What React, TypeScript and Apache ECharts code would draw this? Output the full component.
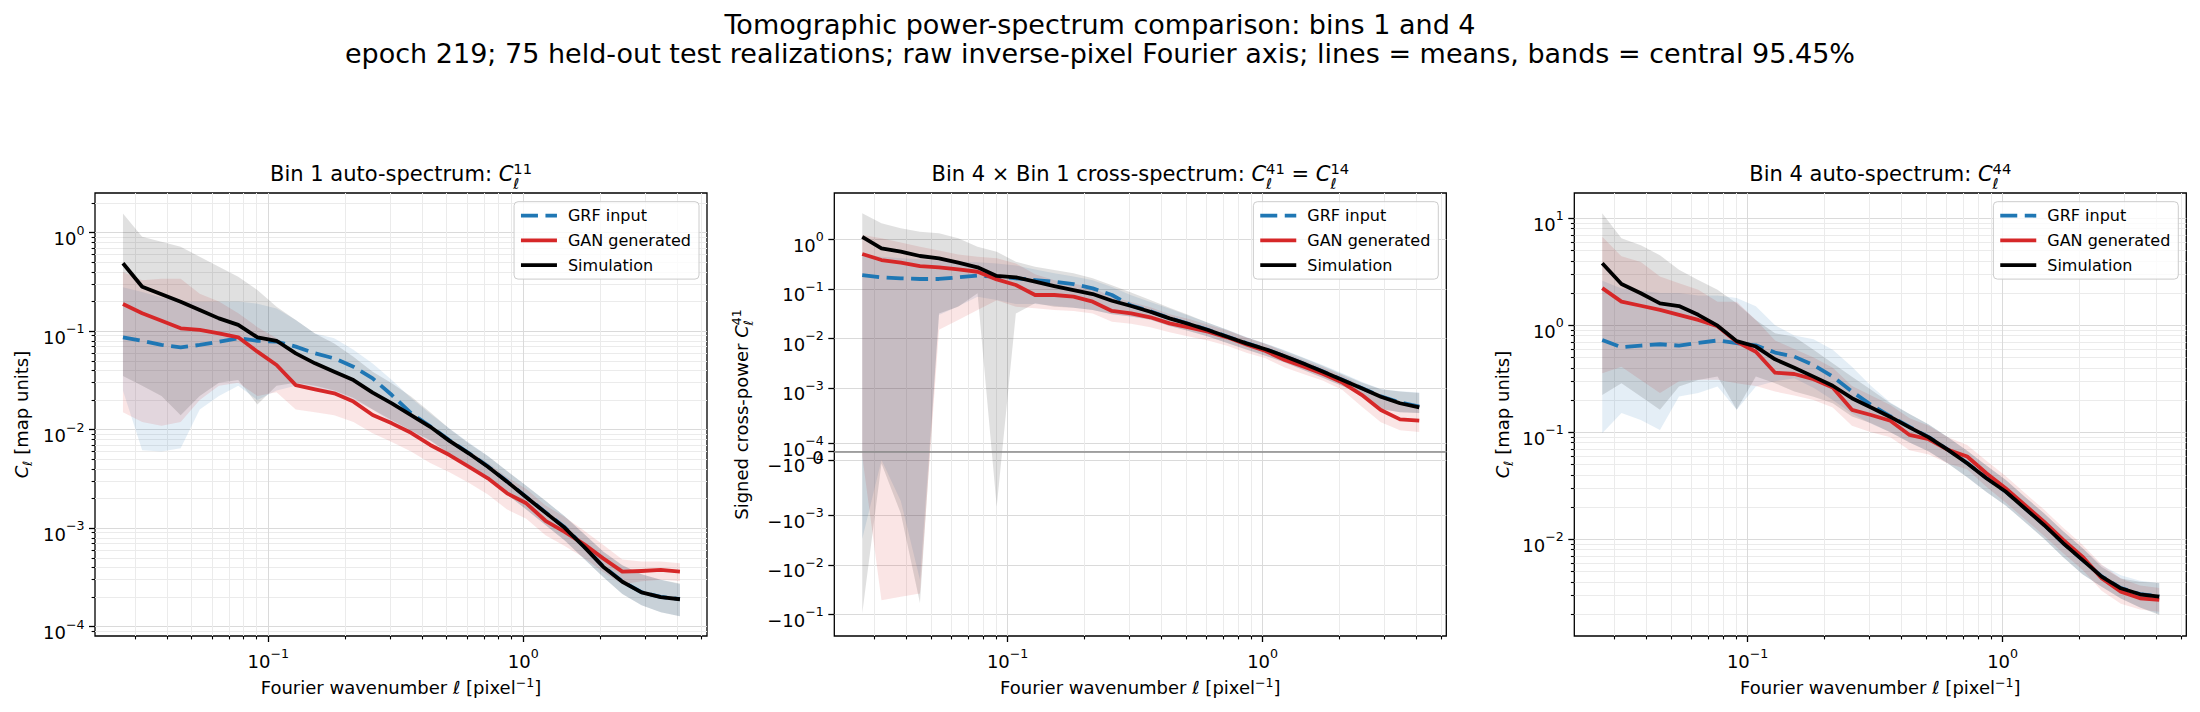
import React, { useEffect, useRef } from "react";
import * as echarts from "echarts";

// ---------------- data ----------------
const ELL = [0.0269, 0.032, 0.0381, 0.0453, 0.0538, 0.064, 0.0762, 0.0906, 0.1077, 0.1281, 0.1524, 0.1813, 0.2156, 0.2565, 0.305, 0.3628, 0.4315, 0.5133, 0.6105, 0.7261, 0.8636, 1.0272, 1.2218, 1.4532, 1.7284, 2.0558, 2.4452, 2.9083, 3.4592, 4.1143];

// Bin 1 auto-spectrum C^11
const GRF_11 = [0.0867, 0.08, 0.0725, 0.0686, 0.0725, 0.0783, 0.0848, 0.08, 0.0783, 0.0697, 0.0596, 0.053, 0.0436, 0.0332, 0.0225, 0.0147, 0.0108, 0.0078, 0.0058, 0.00424, 0.00299, 0.00207, 0.00145, 0.00102, 0.000655, 0.00041, 0.000288, 0.000224, 0.000201, 0.000191];
const GRF_11_LO = [0.025, 0.0062, 0.006, 0.0065, 0.016, 0.022, 0.028, 0.02, 0.025, 0.028, 0.026, 0.024, 0.02, 0.016, 0.012, 0.0095, 0.0077, 0.0057, 0.0044, 0.0032, 0.0022, 0.00155, 0.00108, 0.00075, 0.00049, 0.00032, 0.000215, 0.000165, 0.00014, 0.000128];
const GRF_11_HI = [0.28, 0.25, 0.22, 0.2, 0.2, 0.2, 0.2, 0.19, 0.17, 0.13, 0.095, 0.085, 0.065, 0.047, 0.032, 0.021, 0.0145, 0.0103, 0.0074, 0.0054, 0.0038, 0.0027, 0.0019, 0.00132, 0.00088, 0.00058, 0.00042, 0.00034, 0.0003, 0.00027];
const GAN_11 = [0.189, 0.152, 0.128, 0.107, 0.103, 0.0952, 0.0867, 0.062, 0.0454, 0.0284, 0.0257, 0.0234, 0.0193, 0.0141, 0.0116, 0.0093, 0.007, 0.00553, 0.00421, 0.00321, 0.00226, 0.00179, 0.00119, 0.00092, 0.00069, 0.000494, 0.000362, 0.000368, 0.000377, 0.000362];
const GAN_11_LO = [0.015, 0.012, 0.011, 0.012, 0.02, 0.028, 0.03, 0.022, 0.024, 0.016, 0.015, 0.014, 0.012, 0.0092, 0.0075, 0.006, 0.0046, 0.0037, 0.0029, 0.0022, 0.00155, 0.00125, 0.00085, 0.00066, 0.0005, 0.00036, 0.00027, 0.00029, 0.0003, 0.00029];
const GAN_11_HI = [0.4, 0.33, 0.34, 0.34, 0.24, 0.2, 0.152, 0.11, 0.085, 0.06, 0.048, 0.04, 0.032, 0.024, 0.019, 0.0145, 0.0108, 0.0082, 0.0061, 0.0046, 0.0033, 0.0025, 0.0017, 0.0013, 0.00095, 0.00068, 0.00048, 0.00046, 0.00046, 0.00044];
const SIM_11 = [0.489, 0.283, 0.237, 0.199, 0.164, 0.135, 0.116, 0.0867, 0.08, 0.0596, 0.0472, 0.0388, 0.0319, 0.0238, 0.0185, 0.0141, 0.0107, 0.0077, 0.00576, 0.00421, 0.00297, 0.00206, 0.00144, 0.00101, 0.00065, 0.000407, 0.000286, 0.000223, 0.0002, 0.00019];
const SIM_11_LO = [0.035, 0.028, 0.022, 0.014, 0.022, 0.03, 0.032, 0.018, 0.028, 0.03, 0.028, 0.025, 0.021, 0.016, 0.0125, 0.0098, 0.0078, 0.0057, 0.0044, 0.0032, 0.0022, 0.00155, 0.00108, 0.00075, 0.00049, 0.00032, 0.000215, 0.000165, 0.00014, 0.000128];
const SIM_11_HI = [1.57, 0.91, 0.81, 0.72, 0.57, 0.45, 0.357, 0.262, 0.177, 0.13, 0.095, 0.075, 0.055, 0.0388, 0.0296, 0.0217, 0.015, 0.0102, 0.0073, 0.0054, 0.0038, 0.0027, 0.0019, 0.00132, 0.00088, 0.00058, 0.00042, 0.00034, 0.0003, 0.000275];

// Bin 4 x Bin 1 cross-spectrum C^41 (signed)
const GRF_41 = [0.192, 0.173, 0.165, 0.16, 0.16, 0.173, 0.187, 0.178, 0.165, 0.152, 0.141, 0.126, 0.1035, 0.0759, 0.0465, 0.0355, 0.026, 0.0199, 0.015, 0.011, 0.0081, 0.0061, 0.0044, 0.0031, 0.00215, 0.00147, 0.001, 0.00068, 0.0006, 0.00055];
const GRF_41_LO = [-0.003, -0.0001, -0.0006, -0.02, 0.03, 0.045, 0.07, 0.06, 0.05, 0.05, 0.046, 0.042, 0.038, 0.031, 0.028, 0.024, 0.018, 0.0142, 0.011, 0.0081, 0.006, 0.0045, 0.0033, 0.0023, 0.0016, 0.0011, 0.00075, 0.00052, 0.00048, 0.00047];
const GRF_41_HI = [0.5, 0.45, 0.42, 0.4, 0.38, 0.36, 0.35, 0.33, 0.3, 0.25, 0.21, 0.18, 0.15, 0.11, 0.075, 0.055, 0.04, 0.029, 0.021, 0.015, 0.0108, 0.008, 0.0058, 0.0041, 0.0029, 0.002, 0.00135, 0.00096, 0.00086, 0.00081];
const GAN_41 = [0.511, 0.386, 0.341, 0.292, 0.275, 0.251, 0.224, 0.157, 0.121, 0.0759, 0.0759, 0.0702, 0.0556, 0.0361, 0.0324, 0.0269, 0.0203, 0.0169, 0.0138, 0.0106, 0.00764, 0.0056, 0.0037, 0.00271, 0.00193, 0.00129, 0.00073, 0.000508, 0.000394, 0.000378];
const GAN_41_LO = [-0.00005, -0.0519, -0.0443, -0.0378, 0.015, 0.0237, 0.0376, 0.0596, 0.0441, 0.041, 0.038, 0.036, 0.032, 0.022, 0.02, 0.017, 0.0135, 0.011, 0.0092, 0.0072, 0.0052, 0.004, 0.0026, 0.0019, 0.0014, 0.00092, 0.00055, 0.00036, 0.00026, 0.00024];
const GAN_41_HI = [1.24, 1.06, 0.87, 0.72, 0.6, 0.5, 0.45, 0.42, 0.33, 0.2, 0.15, 0.13, 0.105, 0.07, 0.055, 0.043, 0.031, 0.025, 0.019, 0.0145, 0.0105, 0.0078, 0.0053, 0.0036, 0.0026, 0.0018, 0.0011, 0.00075, 0.0006, 0.00058];
const SIM_41 = [1.14, 0.665, 0.569, 0.466, 0.418, 0.341, 0.275, 0.184, 0.173, 0.141, 0.115, 0.0957, 0.0794, 0.0582, 0.0455, 0.0349, 0.0256, 0.0197, 0.0149, 0.0109, 0.008, 0.0061, 0.0044, 0.0031, 0.00214, 0.00146, 0.00099, 0.00067, 0.00059, 0.00054];
const SIM_41_LO = [-0.0958, -0.000145, -0.00092, -0.0594, 0.032, 0.0441, 0.0822, -0.00067, 0.032, 0.052, 0.044, 0.042, 0.038, 0.031, 0.028, 0.024, 0.018, 0.0142, 0.011, 0.0081, 0.006, 0.0045, 0.0033, 0.0023, 0.0016, 0.0011, 0.00075, 0.00052, 0.00048, 0.00047];
const SIM_41_HI = [3.39, 2.13, 1.69, 1.44, 1.34, 1.06, 0.718, 0.569, 0.357, 0.283, 0.243, 0.208, 0.165, 0.12, 0.085, 0.06, 0.042, 0.03, 0.021, 0.015, 0.0105, 0.0079, 0.0057, 0.004, 0.0028, 0.0019, 0.0013, 0.00095, 0.00085, 0.0008];

// Bin 4 auto-spectrum C^44
const GRF_44 = [0.729, 0.623, 0.645, 0.664, 0.645, 0.685, 0.72, 0.68, 0.648, 0.555, 0.509, 0.425, 0.331, 0.24, 0.18, 0.141, 0.112, 0.09, 0.0688, 0.0515, 0.0374, 0.028, 0.0196, 0.0137, 0.0092, 0.00643, 0.0045, 0.0035, 0.00307, 0.00292];
const GRF_44_LO = [0.098, 0.151, 0.13, 0.105, 0.216, 0.232, 0.267, 0.162, 0.267, 0.3, 0.32, 0.26, 0.2, 0.15, 0.12, 0.1, 0.08, 0.066, 0.051, 0.038, 0.0277, 0.0207, 0.0145, 0.0101, 0.0068, 0.0047, 0.0036, 0.0028, 0.0023, 0.002];
const GRF_44_HI = [2.6, 2.2, 2.1, 2.0, 2.0, 1.9, 1.9, 1.8, 1.5, 1.0, 0.8, 0.74, 0.59, 0.41, 0.27, 0.19, 0.148, 0.118, 0.09, 0.067, 0.049, 0.036, 0.025, 0.0175, 0.0119, 0.0083, 0.0057, 0.0046, 0.0041, 0.0039];
const GAN_44 = [2.22, 1.66, 1.52, 1.39, 1.25, 1.12, 0.98, 0.7, 0.565, 0.36, 0.35, 0.313, 0.262, 0.162, 0.145, 0.128, 0.0944, 0.086, 0.0684, 0.0593, 0.0414, 0.03, 0.0209, 0.0146, 0.00984, 0.00688, 0.00433, 0.00324, 0.00281, 0.00271];
const GAN_44_LO = [0.356, 0.41, 0.308, 0.232, 0.3, 0.31, 0.31, 0.287, 0.27, 0.24, 0.22, 0.2, 0.17, 0.115, 0.1, 0.09, 0.068, 0.062, 0.051, 0.045, 0.031, 0.022, 0.0155, 0.0108, 0.0074, 0.0052, 0.0033, 0.0025, 0.0022, 0.0021];
const GAN_44_HI = [6.7, 4.4, 3.9, 2.85, 2.47, 2.14, 1.66, 1.66, 1.12, 0.72, 0.6, 0.5, 0.4, 0.27, 0.22, 0.18, 0.135, 0.115, 0.09, 0.076, 0.054, 0.039, 0.027, 0.019, 0.0128, 0.0089, 0.0058, 0.0043, 0.0037, 0.0035];
const SIM_44 = [3.8, 2.43, 1.99, 1.6, 1.51, 1.25, 0.99, 0.71, 0.632, 0.48, 0.4, 0.331, 0.272, 0.208, 0.17, 0.139, 0.111, 0.0895, 0.0684, 0.0513, 0.0372, 0.0279, 0.0195, 0.0136, 0.00918, 0.00641, 0.00448, 0.00348, 0.00306, 0.00291];
const SIM_44_LO = [0.223, 0.287, 0.216, 0.162, 0.267, 0.308, 0.331, 0.162, 0.331, 0.287, 0.24, 0.215, 0.187, 0.14, 0.121, 0.1, 0.08, 0.066, 0.051, 0.038, 0.0277, 0.0207, 0.0145, 0.0101, 0.0068, 0.0047, 0.0036, 0.0028, 0.0023, 0.00196];
const SIM_44_HI = [11.1, 6.5, 5.6, 4.5, 3.29, 2.65, 2.14, 1.6, 1.12, 0.84, 0.78, 0.59, 0.44, 0.33, 0.25, 0.187, 0.148, 0.118, 0.09, 0.067, 0.049, 0.036, 0.025, 0.0175, 0.0119, 0.0083, 0.0055, 0.0043, 0.004, 0.0039];

// ticks
const X_MAJOR = [0.1, 1];
const X_MINOR = [0.03, 0.04, 0.05, 0.06, 0.07, 0.08, 0.09, 0.2, 0.3, 0.4, 0.5, 0.6, 0.7, 0.8, 0.9, 2, 3, 4, 5];
const Y11_MAJOR = [1e-4, 1e-3, 1e-2, 1e-1, 1];
const Y44_MAJOR = [1e-2, 1e-1, 1, 10];
const Y41_MAJOR = [1, 0.1, 0.01, 1e-3, 1e-4, 0, -1e-4, -1e-3, -1e-2, -1e-1];
const MINOR_MANTISSA = [2, 3, 4, 5, 6, 7, 8, 9];

// texts
const SERIES_NAMES = ["GRF input", "GAN generated", "Simulation"];
const SUPTITLE_1 = "Tomographic power-spectrum comparison: bins 1 and 4";
const SUPTITLE_2 = "epoch 219; 75 held-out test realizations; raw inverse-pixel Fourier axis; lines = means, bands = central 95.45%";

// ---------------- layout / style ----------------
const FONT = "DejaVu Sans";
const BLUE = "#1f77b4";
const RED = "#d62728";
const BLACK = "#000000";
const BAND_BLUE = "rgba(31,119,180,0.12)";
const BAND_RED = "rgba(214,39,40,0.12)";
const BAND_GRAY = "rgba(0,0,0,0.12)";
const MAJOR_GRID = "#dadada";
const MINOR_GRID = "#ebebeb";

const GRID_LEFT = [95, 834.3, 1574.3];
const GRID_TOP = 193;
const GRID_W = 612;
const GRID_H = 443;
const X_MIN = 0.0209;
const X_MAX = 5.253;

const LINTHRESH = 6.7e-4;
const LINSCALE_ADJ = 1 / 0.9;
function symlog(v: number): number {
  const a = Math.abs(v);
  if (a <= LINTHRESH) return (v / LINTHRESH) * LINSCALE_ADJ;
  return Math.sign(v) * (LINSCALE_ADJ + Math.log10(a / LINTHRESH));
}
const ident = (v: number) => v;

function minorTicks(lo: number, hi: number): number[] {
  const out: number[] = [];
  for (let e = -6; e <= 2; e++) {
    for (const m of MINOR_MANTISSA) {
      const v = m * Math.pow(10, e);
      if (v >= lo && v <= hi) out.push(+v.toPrecision(6));
    }
  }
  return out;
}

const expStr = (e: number) => (e < 0 ? "\u2212" + -e : String(e));
const logFmt = (value: number) => `{b|10}{e|${expStr(Math.round(Math.log10(value)))}}`;
const symFmt = (value: number) => {
  let best = Y41_MAJOR[0];
  let d = Infinity;
  for (const t of Y41_MAJOR) {
    const dd = Math.abs(symlog(t) - value);
    if (dd < d) { d = dd; best = t; }
  }
  if (best === 0) return "{b|0}";
  const e = Math.round(Math.log10(Math.abs(best)));
  return `{b|${best < 0 ? "\u2212" : ""}10}{e|${expStr(e)}}`;
};

const RICH = {
  b: { fontSize: 18, fontFamily: FONT, color: "#000", lineHeight: 24, verticalAlign: "bottom" },
  e: { fontSize: 12.6, fontFamily: FONT, color: "#000", lineHeight: 11, verticalAlign: "top" },
};

type Seg = { t: string; size: number; dy?: number; italic?: boolean; stack?: boolean };

function mathText(ctx: CanvasRenderingContext2D, segs: Seg[], x: number, y: number, rotation = 0) {
  let cursor = 0;
  let prevStart = 0;
  let prevW = 0;
  const placed = segs.map((s) => {
    ctx.font = `${s.italic ? "italic " : ""}${s.size}px "${FONT}"`;
    const w = ctx.measureText(s.t).width;
    let sx: number;
    if (s.stack) {
      sx = prevStart;
      cursor = prevStart + Math.max(prevW, w);
    } else {
      sx = cursor;
      cursor += w;
    }
    prevStart = sx;
    prevW = w;
    return { s, sx };
  });
  const off = -cursor / 2;
  return {
    type: "group",
    x,
    y,
    rotation,
    silent: true,
    children: placed.map(({ s, sx }) => ({
      type: "text",
      x: off + sx,
      y: (s.dy || 0) - 0.346 * s.size,
      style: {
        text: s.t,
        fontSize: s.size,
        fontFamily: FONT,
        fontStyle: s.italic ? "italic" : "normal",
        fill: "#000",
        align: "left",
        verticalAlign: "middle",
      },
    })),
  };
}

function buildOption() {
  const ctx = document.createElement("canvas").getContext("2d") as CanvasRenderingContext2D;

  const panels = [
    { grf: [GRF_11, GRF_11_LO, GRF_11_HI], gan: [GAN_11, GAN_11_LO, GAN_11_HI], sim: [SIM_11, SIM_11_LO, SIM_11_HI], kind: "log", yMin: 8.05e-5, yMax: 2.53, major: Y11_MAJOR, tf: ident },
    { grf: [GRF_41, GRF_41_LO, GRF_41_HI], gan: [GAN_41, GAN_41_LO, GAN_41_HI], sim: [SIM_41, SIM_41_LO, SIM_41_HI], kind: "sym", yMin: -3.723, yMax: 5.226, major: Y41_MAJOR, tf: symlog },
    { grf: [GRF_44, GRF_44_LO, GRF_44_HI], gan: [GAN_44, GAN_44_LO, GAN_44_HI], sim: [SIM_44, SIM_44_LO, SIM_44_HI], kind: "log", yMin: 1.247e-3, yMax: 17.2, major: Y44_MAJOR, tf: ident },
  ];

  const grid = GRID_LEFT.map((l) => ({
    left: l, top: GRID_TOP, width: GRID_W, height: GRID_H,
    show: true, borderColor: "#000", borderWidth: 1.3, backgroundColor: "rgba(0,0,0,0)",
    containLabel: false, outerBoundsMode: "none",
  }));

  const xAxis: any[] = [];
  const yAxis: any[] = [];
  panels.forEach((p, g) => {
    xAxis.push({
      type: "log", logBase: 10, gridIndex: g, position: "bottom", min: X_MIN, max: X_MAX,
      axisLine: { show: false, onZero: false },
      axisTick: { show: true, customValues: X_MAJOR, length: 6, lineStyle: { color: "#000", width: 1.3 } },
      axisLabel: { show: true, customValues: X_MAJOR, formatter: logFmt, margin: 10.8, rich: RICH, color: "#000" },
      splitLine: { show: true, lineStyle: { color: MAJOR_GRID, width: 1 } },
    });
    xAxis.push({
      type: "log", logBase: 10, gridIndex: g, position: "bottom", min: X_MIN, max: X_MAX,
      axisLine: { show: false, onZero: false },
      axisTick: { show: true, customValues: X_MINOR, length: 3.4, lineStyle: { color: "#000", width: 1.1 } },
      axisLabel: { show: false },
      splitLine: { show: true, lineStyle: { color: MINOR_GRID, width: 1 } },
    });
    if (p.kind === "log") {
      yAxis.push({
        type: "log", logBase: 10, gridIndex: g, position: "left", min: p.yMin, max: p.yMax,
        axisLine: { show: false, onZero: false },
        axisTick: { show: true, customValues: p.major, length: 6, lineStyle: { color: "#000", width: 1.3 } },
        axisLabel: { show: true, customValues: p.major, formatter: logFmt, margin: 10.5, rich: RICH, color: "#000", padding: [5.6, 0, 0, 0] },
        splitLine: { show: true, lineStyle: { color: MAJOR_GRID, width: 1 } },
      });
      yAxis.push({
        type: "log", logBase: 10, gridIndex: g, position: "left", min: p.yMin, max: p.yMax,
        axisLine: { show: false, onZero: false },
        axisTick: { show: true, customValues: minorTicks(p.yMin, p.yMax), length: 3.4, lineStyle: { color: "#000", width: 1.1 } },
        axisLabel: { show: false },
        splitLine: { show: true, lineStyle: { color: MINOR_GRID, width: 1 } },
      });
    } else {
      const tv = p.major.map(symlog);
      yAxis.push({
        type: "value", gridIndex: g, position: "left", min: p.yMin, max: p.yMax,
        axisLine: { show: false, onZero: false },
        axisTick: { show: true, customValues: tv, length: 6, lineStyle: { color: "#000", width: 1.3 } },
        axisLabel: { show: true, customValues: tv, formatter: symFmt, margin: 10.5, rich: RICH, color: "#000", padding: [5.6, 0, 0, 0] },
        splitLine: { show: true, lineStyle: { color: MAJOR_GRID, width: 1 } },
      });
      yAxis.push({ type: "value", gridIndex: g, position: "left", min: p.yMin, max: p.yMax, show: false });
    }
  });

  const series: any[] = [];
  panels.forEach((p, g) => {
    const tf = p.tf;
    const band = (name: string, lo: number[], hi: number[], fill: string) => ({
      type: "custom",
      name,
      xAxisIndex: 2 * g,
      yAxisIndex: 2 * g,
      clip: true,
      silent: true,
      z: 1,
      data: [[ELL[0], tf(hi[0])]],
      renderItem: (params: any, api: any) => {
        if (params.dataIndex !== 0) return null;
        const pts: number[][] = [];
        for (let i = 0; i < ELL.length; i++) pts.push(api.coord([ELL[i], tf(hi[i])]));
        for (let i = ELL.length - 1; i >= 0; i--) pts.push(api.coord([ELL[i], tf(lo[i])]));
        return { type: "polygon", shape: { points: pts }, style: { fill, stroke: "none" } };
      },
    });
    series.push(band("GRF band", p.grf[1], p.grf[2], BAND_BLUE));
    series.push(band("GAN band", p.gan[1], p.gan[2], BAND_RED));
    series.push(band("Simulation band", p.sim[1], p.sim[2], BAND_GRAY));
    const line = (name: string, vals: number[], color: string, dashed: boolean, z: number, extra: any = {}) => ({
      type: "line",
      name,
      xAxisIndex: 2 * g,
      yAxisIndex: 2 * g,
      data: ELL.map((x, i) => [x, tf(vals[i])]),
      symbol: "none",
      showSymbol: false,
      silent: true,
      z,
      lineStyle: { color, width: 3.8, type: dashed ? [17, 7.5] : "solid", join: "round", cap: "butt" },
      itemStyle: { color },
      ...extra,
    });
    const zeroLine =
      p.kind === "sym"
        ? {
            markLine: {
              silent: true,
              symbol: "none",
              label: { show: false },
              lineStyle: { color: "#8a8a8a", width: 1.6, type: "solid" },
              data: [{ yAxis: 0 }],
            },
          }
        : {};
    series.push(line(SERIES_NAMES[0], p.grf[0], BLUE, true, 3, zeroLine));
    series.push(line(SERIES_NAMES[1], p.gan[0], RED, false, 4));
    series.push(line(SERIES_NAMES[2], p.sim[0], BLACK, false, 5));
  });

  const legend = GRID_LEFT.map((l) => ({
    orient: "vertical",
    right: 2200 - (l + GRID_W - 8),
    top: 201.7,
    data: SERIES_NAMES,
    itemWidth: 36,
    itemHeight: 16,
    itemGap: 8.7,
    padding: [6, 8, 6, 5],
    backgroundColor: "rgba(255,255,255,0.8)",
    borderColor: "#cccccc",
    borderWidth: 1,
    borderRadius: 4,
    selectedMode: false,
    itemStyle: { color: "rgba(0,0,0,0)", borderColor: "rgba(0,0,0,0)", borderWidth: 0 },
    lineStyle: { width: 3.8 },
    textStyle: { fontSize: 16, fontFamily: FONT, color: "#000", lineHeight: 16, padding: [0, 0, 0, 6] },
  }));

  const CX = GRID_LEFT.map((l) => l + GRID_W / 2);
  const T = 21;
  const TS = 14.7;
  const L = 18;
  const LS = 12.6;
  const cSup = (sup: string): Seg[] => [
    { t: "C", size: T, italic: true },
    { t: sup, size: TS, dy: -7.7 },
    { t: "\u2113", size: TS, dy: 7.3, italic: true, stack: true },
  ];
  const xLabel: Seg[] = [
    { t: "Fourier wavenumber ", size: L },
    { t: "\u2113", size: L, italic: true },
    { t: " [pixel", size: L },
    { t: "\u22121", size: LS, dy: -7.5 },
    { t: "]", size: L },
  ];
  const yAuto: Seg[] = [
    { t: "C", size: L, italic: true },
    { t: "\u2113", size: LS, dy: 4, italic: true },
    { t: " [map units]", size: L },
  ];
  const yCross: Seg[] = [
    { t: "Signed cross-power ", size: L },
    { t: "C", size: L, italic: true },
    { t: "41", size: LS, dy: -7 },
    { t: "\u2113", size: LS, dy: 5, italic: true, stack: true },
  ];

  const graphic: any[] = [
    {
      type: "text", x: 1100, y: 34.3 - 0.346 * 27, silent: true,
      style: { text: SUPTITLE_1, fontSize: 27, fontFamily: FONT, fill: "#000", align: "center", verticalAlign: "middle" },
    },
    {
      type: "text", x: 1100, y: 63.3 - 0.346 * 27, silent: true,
      style: { text: SUPTITLE_2, fontSize: 27, fontFamily: FONT, fill: "#000", align: "center", verticalAlign: "middle" },
    },
    mathText(ctx, [{ t: "Bin 1 auto-spectrum: ", size: T }, ...cSup("11")], CX[0], 181.7),
    mathText(ctx, [{ t: "Bin 4 \u00d7 Bin 1 cross-spectrum: ", size: T }, ...cSup("41"), { t: " = ", size: T }, ...cSup("14")], CX[1], 181.7),
    mathText(ctx, [{ t: "Bin 4 auto-spectrum: ", size: T }, ...cSup("44")], CX[2], 181.7),
    mathText(ctx, xLabel, CX[0], 694),
    mathText(ctx, xLabel, CX[1], 694),
    mathText(ctx, xLabel, CX[2], 694),
    mathText(ctx, yAuto, 28, 414.5, Math.PI / 2),
    mathText(ctx, yCross, 747.5, 414.5, Math.PI / 2),
    mathText(ctx, yAuto, 1509, 414.5, Math.PI / 2),
  ];

  return {
    animation: false,
    backgroundColor: "#ffffff",
    textStyle: { fontFamily: FONT },
    grid,
    xAxis,
    yAxis,
    legend,
    series,
    graphic,
  };
}

export default function App() {
  const ref = useRef<HTMLDivElement>(null);
  useEffect(() => {
    document.body.style.margin = "0";
    const chart = echarts.init(ref.current as HTMLDivElement, undefined, { renderer: "svg" });
    chart.setOption(buildOption() as any);
    return () => chart.dispose();
  }, []);
  return <div ref={ref} style={{ width: 2200, height: 712 }} />;
}
